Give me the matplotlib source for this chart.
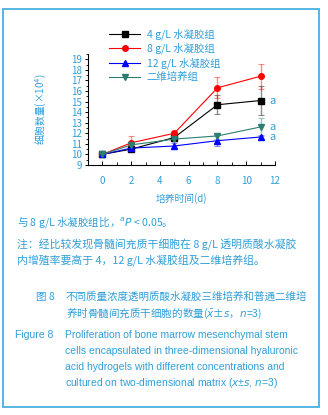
import matplotlib
matplotlib.use("Agg")
import matplotlib.pyplot as plt
from matplotlib.patches import Rectangle
from matplotlib.ticker import MultipleLocator

plt.rcParams['font.family'] = ['Noto Sans CJK SC', 'DejaVu Sans']

days = [0, 2, 5, 8, 11]
series_labels = ["4 g/L 水凝胶组", "8 g/L 水凝胶组", "12 g/L 水凝胶组", "二维培养组"]
g4_mean = [10.0, 10.5, 11.6, 14.7, 15.1]
g4_err = [0.05, 0.15, 0.15, 0.9, 1.4]
g8_mean = [10.0, 11.1, 12.0, 16.3, 17.4]
g8_err = [0.05, 0.6, 0.2, 1.0, 1.2]
g12_mean = [10.0, 10.6, 10.8, 11.3, 11.65]
g12_err = [0.05, 0.2, 0.3, 0.55, 0.2]
g2d_mean = [10.0, 10.9, 11.45, 11.75, 12.6]
g2d_err = [0.05, 0.2, 0.2, 0.3, 0.85]
sig_marks = ["a", "a", "a"]
sig_values = [g4_mean[-1], g2d_mean[-1], g12_mean[-1]]

xticks = [0, 2, 4, 6, 8, 10, 12]
yticks = list(range(9, 20))

BLUE = "#2f9fd9"
colors = ["#000000", "#ff0000", "#0000ff", "#2a7f72"]
markers = ["s", "o", "^", "v"]

fig = plt.figure(figsize=(3.28, 4.15), dpi=100)
fig.patch.set_facecolor("white")
fig.patches.append(Rectangle((3/328, 1-407/415), 316/328, 398/415, transform=fig.transFigure,
                             fill=False, edgecolor="#3aa8e0", linewidth=1.2))

ax = fig.add_axes([88/328, 1-165/415, 187/328, 111/415])
means = [g4_mean, g8_mean, g12_mean, g2d_mean]
errs = [g4_err, g8_err, g12_err, g2d_err]
for m, e, c, mk, lab in zip(means, errs, colors, markers, series_labels):
    ax.errorbar(days, m, yerr=e, fmt="none", ecolor=c, elinewidth=1.0, capsize=2,
                capthick=0.8, alpha=0.45, zorder=2)
    ax.plot(days, m, color=c, marker=mk, markersize=4, linewidth=0.8, label=lab, zorder=3)

for v, s in zip(sig_values, sig_marks):
    ax.text(11.6, v, s, color=BLUE, fontsize=8, va="center", ha="left")

ax.set_xlim(-1, 12)
ax.set_ylim(9, 19.5)
ax.set_xticks(xticks)
ax.set_yticks(yticks)
ax.xaxis.set_minor_locator(MultipleLocator(1))
ax.yaxis.set_minor_locator(MultipleLocator(0.5))
for sp in ["top", "right"]:
    ax.spines[sp].set_visible(False)
for sp in ["left", "bottom"]:
    ax.spines[sp].set_linewidth(0.8)
ax.tick_params(axis="x", which="both", direction="in", labelsize=7, labelcolor=BLUE, pad=8)
ax.tick_params(axis="x", which="major", length=3, width=0.7)
ax.tick_params(axis="x", which="minor", length=2, width=0.6)
ax.tick_params(axis="y", which="both", direction="out", labelsize=7, labelcolor=BLUE, pad=1.5)
ax.tick_params(axis="y", which="major", length=2.5, width=0.7)
ax.tick_params(axis="y", which="minor", length=1.5, width=0.6)
ax.set_xlabel("培养时间(d)", fontsize=7, color=BLUE, labelpad=5)
ax.set_ylabel("细胞数量(×10$^4$)", fontsize=7, color=BLUE, labelpad=16)
ax.patch.set_alpha(0)

leg = ax.legend(loc="upper left", bbox_to_anchor=(105/328, 1-24/415), bbox_transform=fig.transFigure,
                frameon=False, fontsize=7.5, handlelength=3.0, handletextpad=0.6,
                labelspacing=0.3, borderaxespad=0)
for t in leg.get_texts():
    t.set_color(BLUE)

def ft(x, y, s, **kw):
    fig.text(x/328, 1-y/415, s, color=BLUE, va="center", ha="left", **kw)

ft(17, 222, "与 8 g/L 水凝胶组比，$^{a}$$\\it{P}$ < 0.05。", fontsize=7.6)
ft(17, 245, "注：经比较发现骨髓间充质干细胞在 8 g/L 透明质酸水凝胶", fontsize=7.8)
ft(17, 261, "内增殖率要高于 4，12 g/L 水凝胶组及二维培养组。", fontsize=7.8)
ft(36, 297, "图 8", fontsize=7.6)
ft(66, 297, "不同质量浓度透明质酸水凝胶三维培养和普通二维培", fontsize=7.6)
ft(66, 313, "养时骨髓间充质干细胞的数量($\\bar{x}$±$\\it{s}$，$\\it{n}$=3)", fontsize=7.6)
ft(15, 335, "Figure 8", fontsize=7.5, family="Liberation Sans")
en_lines = ["Proliferation of bone marrow mesenchymal stem",
            "cells encapsulated in three-dimensional hyaluronic",
            "acid hydrogels with different concentrations and",
            "cultured on two-dimensional matrix ($\\it{x}$±$\\it{s}$, $\\it{n}$=3)"]
for i, line in enumerate(en_lines):
    ft(65, 335 + i*16, line, fontsize=7.5, family="Liberation Sans")

fig.savefig("out.png", dpi=100)
